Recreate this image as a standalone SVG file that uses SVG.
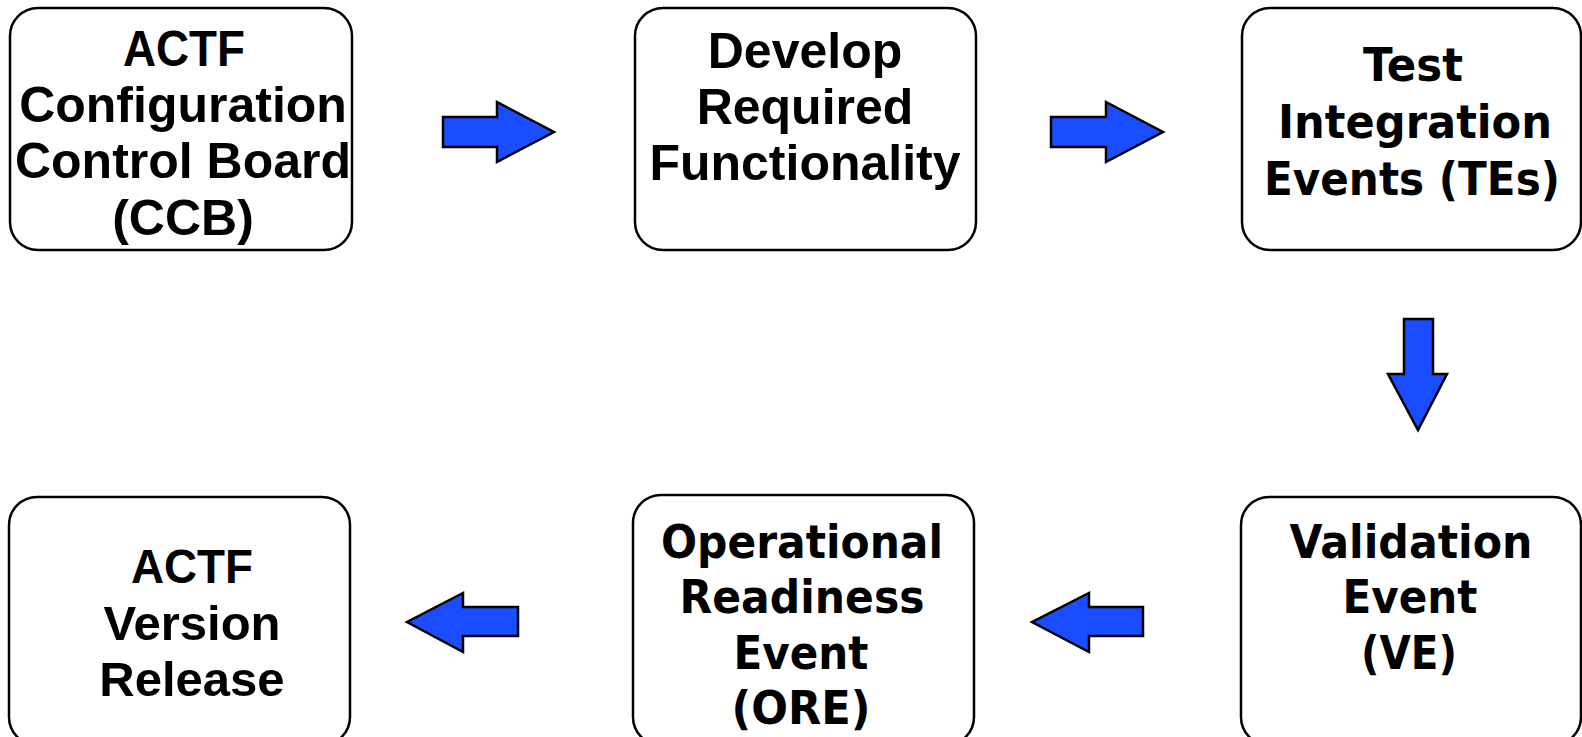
<svg xmlns="http://www.w3.org/2000/svg" width="1582" height="737" viewBox="0 0 1582 737">
<style>
.box{fill:#fff;stroke:#000;stroke-width:2.5}
.arr{fill:#1a4dff;stroke:#000;stroke-width:2.5;stroke-linejoin:miter}
.a{font-family:"Liberation Sans",Arial,sans-serif;font-weight:bold;font-size:50px;text-anchor:middle;fill:#000}
.t{font-family:"DejaVu Sans",Verdana,sans-serif;font-weight:bold;font-size:47px;text-anchor:middle;fill:#000}
</style>
<rect width="1582" height="737" fill="#fff"/>
<g id="node-ccb">
<rect class="box" x="10" y="8" width="342" height="242" rx="28" ry="28"/>
<text class="a" x="184" y="66" textLength="122" lengthAdjust="spacingAndGlyphs">ACTF</text>
<text class="a" x="183" y="122">Configuration</text>
<text class="a" x="183" y="178">Control Board</text>
<text class="a" x="183" y="235">(CCB)</text>
</g>
<g id="node-develop">
<rect class="box" x="635" y="8" width="341" height="242" rx="28" ry="28"/>
<text class="a" x="805" y="68">Develop</text>
<text class="a" x="805" y="124">Required</text>
<text class="a" x="805" y="180">Functionality</text>
</g>
<g id="node-te">
<rect class="box" x="1242" y="8" width="339" height="242" rx="28" ry="28"/>
<text class="t" x="1413" y="81" textLength="100" lengthAdjust="spacingAndGlyphs">Test</text>
<text class="t" x="1415" y="138" textLength="274" lengthAdjust="spacingAndGlyphs">Integration</text>
<text class="t" x="1412" y="195" textLength="296" lengthAdjust="spacingAndGlyphs">Events (TEs)</text>
</g>
<g id="node-ve">
<rect class="box" x="1241" y="497" width="340" height="248" rx="28" ry="28"/>
<text class="t" x="1411" y="558" textLength="243" lengthAdjust="spacingAndGlyphs">Validation</text>
<text class="t" x="1410" y="613" textLength="135" lengthAdjust="spacingAndGlyphs">Event</text>
<text class="t" x="1409" y="669" textLength="96" lengthAdjust="spacingAndGlyphs">(VE)</text>
</g>
<g id="node-ore">
<rect class="box" x="633" y="495" width="341" height="250" rx="28" ry="28"/>
<text class="t" x="802" y="558" textLength="282" lengthAdjust="spacingAndGlyphs">Operational</text>
<text class="t" x="802" y="613" textLength="245" lengthAdjust="spacingAndGlyphs">Readiness</text>
<text class="t" x="801" y="669" textLength="135" lengthAdjust="spacingAndGlyphs">Event</text>
<text class="t" x="801" y="724" textLength="139" lengthAdjust="spacingAndGlyphs">(ORE)</text>
</g>
<g id="node-release">
<rect class="box" x="9" y="497" width="341" height="248" rx="28" ry="28"/>
<text class="a" x="192" y="583" style="font-size:49px" textLength="122" lengthAdjust="spacingAndGlyphs">ACTF</text>
<text class="a" x="192" y="640" style="font-size:49px">Version</text>
<text class="a" x="192" y="696" style="font-size:49px">Release</text>
</g>
<g id="connectors">
<polygon class="arr" points="443,117 497,117 497,102 554,132 497,162 497,147 443,147"/>
<polygon class="arr" points="1051,117 1106,117 1106,102 1163,132 1106,162 1106,147 1051,147"/>
<polygon class="arr" points="1404,319 1433,319 1433,374 1447,374 1418,430 1388,374 1404,374"/>
<polygon class="arr" points="1143,607 1089,607 1089,593 1032,622 1089,652 1089,636 1143,636"/>
<polygon class="arr" points="518,607 463,607 463,593 407,622 463,652 463,636 518,636"/>
</g>
</svg>
